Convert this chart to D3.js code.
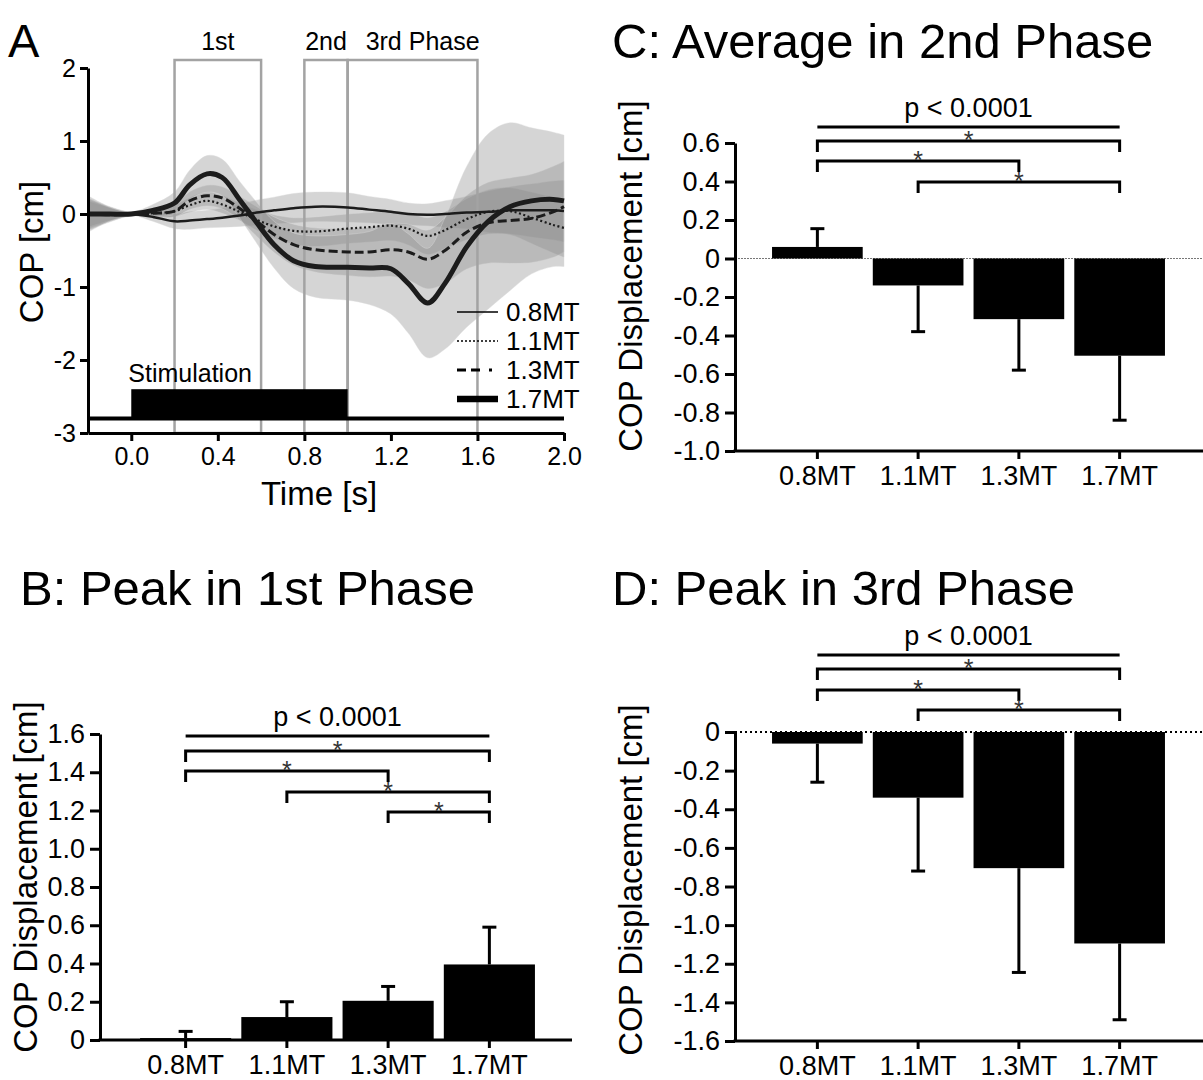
<!DOCTYPE html>
<html>
<head>
<meta charset="utf-8">
<script src="https://cdn.jsdelivr.net/npm/d3@7"></script>
<style>
  body { margin: 0; background: #fff; }
  svg { font-family: "Liberation Sans", Arial, Helvetica, sans-serif; }
</style>
</head>
<body>
<svg id="fig" width="1203" height="1080"></svg>
<script>
// ---- panel A: time courses ----
const times = [-0.2, -0.1, 0, 0.1, 0.2, 0.27, 0.35, 0.42, 0.5, 0.58, 0.66, 0.75, 0.85,
               1.0, 1.1, 1.2, 1.28, 1.37, 1.45, 1.55, 1.65, 1.75, 1.85, 1.95, 2.0];

const mean08 = [0, 0, 0, -0.04, -0.1, -0.09, -0.07, -0.05, -0.02, 0.02, 0.05, 0.08, 0.1,
                0.09, 0.06, 0.03, 0, -0.01, 0, 0.02, 0.03, 0.05, 0.05, 0.05, 0.04];
const mean11 = [0, 0, 0, 0.01, 0.04, 0.12, 0.18, 0.13, 0.03, -0.08, -0.17, -0.23, -0.24,
                -0.2, -0.18, -0.16, -0.2, -0.3, -0.22, -0.07, 0.03, 0.04, -0.05, -0.15, -0.19];
const mean13 = [0, -0.01, 0, 0.01, 0.04, 0.18, 0.25, 0.22, 0.08, -0.1, -0.28, -0.42, -0.49,
                -0.52, -0.52, -0.49, -0.52, -0.62, -0.5, -0.25, -0.12, -0.09, -0.06, 0.03, 0.1];
const mean17 = [0, 0, 0, 0.05, 0.15, 0.4, 0.55, 0.5, 0.2, -0.12, -0.42, -0.64, -0.72,
                -0.73, -0.74, -0.75, -0.95, -1.22, -0.95, -0.45, -0.1, 0.1, 0.18, 0.2, 0.18];

const sd08 = [0.2, 0.1, 0.02, 0.06, 0.1, 0.12, 0.12, 0.13, 0.15, 0.17, 0.18, 0.2, 0.2,
              0.2, 0.18, 0.17, 0.15, 0.15, 0.18, 0.22, 0.28, 0.32, 0.36, 0.4, 0.42];
const sd11 = [0.18, 0.09, 0.02, 0.05, 0.08, 0.1, 0.12, 0.12, 0.12, 0.14, 0.16, 0.18, 0.2,
              0.2, 0.2, 0.2, 0.22, 0.25, 0.25, 0.28, 0.3, 0.32, 0.35, 0.38, 0.4];
const sd13 = [0.22, 0.1, 0.02, 0.05, 0.08, 0.12, 0.14, 0.15, 0.16, 0.2, 0.24, 0.28, 0.3,
              0.32, 0.34, 0.36, 0.38, 0.4, 0.45, 0.5, 0.55, 0.58, 0.6, 0.62, 0.62];
const sd17 = [0.25, 0.1, 0.03, 0.08, 0.15, 0.2, 0.25, 0.25, 0.25, 0.28, 0.32, 0.38, 0.42,
              0.45, 0.5, 0.62, 0.68, 0.75, 0.9, 1.1, 1.2, 1.15, 1.0, 0.92, 0.9];

const seriesNames = ["0.8MT", "1.1MT", "1.3MT", "1.7MT"];
const phases = [
  {label: "1st", t0: 0.2, t1: 0.6},
  {label: "2nd", t0: 0.8, t1: 1.0},
  {label: "3rd Phase", t0: 1.0, t1: 1.6}
];
const stimulation = {t0: 0, t1: 1.0, top: -2.4, base: -2.8};

// ---- panels B-D: bar charts ----
const categories = ["0.8MT", "1.1MT", "1.3MT", "1.7MT"];
const peak1Mean = [0.01, 0.12, 0.205, 0.395];
const peak1Err  = [0.045, 0.2, 0.28, 0.59];
const avg2Mean  = [0.06, -0.14, -0.315, -0.505];
const avg2Err   = [0.155, -0.38, -0.58, -0.84];
const peak3Mean = [-0.06, -0.34, -0.705, -1.095];
const peak3Err  = [-0.26, -0.72, -1.245, -1.49];
const pairsB  = [[0, 3], [0, 2], [1, 3], [2, 3]];
const pairsCD = [[0, 3], [0, 2], [1, 3]];
const pLabel = "p < 0.0001";

const svg = d3.select("#fig");
const tickFmt = d => d === 0 ? "0" : d.toFixed(1);

function styleAxis(g, fs) {
  g.selectAll("path.domain").attr("stroke", "#000").attr("stroke-width", 3);
  g.selectAll(".tick line").attr("stroke", "#000").attr("stroke-width", 3);
  g.selectAll(".tick text").attr("fill", "#000").attr("font-size", fs)
    .style("font-family", "'Liberation Sans', Arial, sans-serif");
}

// ================= Panel A =================
(function () {
  const x = d3.scaleLinear().domain([-0.2, 2.0]).range([88, 564]);
  const y = d3.scaleLinear().domain([-3, 2]).range([433, 68]);
  const g = svg.append("g");

  g.append("text").attr("x", 8).attr("y", 57).attr("font-size", 47).text("A");

  const means = [mean08, mean11, mean13, mean17];
  const sds = [sd08, sd11, sd13, sd17];
  const rows = means.map((m, i) => times.map((t, j) => ({t, m: m[j], s: sds[i][j]})));

  const area = d3.area().curve(d3.curveCatmullRom)
    .x(d => x(d.t)).y0(d => y(d.m - d.s)).y1(d => y(d.m + d.s));
  const line = d3.line().curve(d3.curveCatmullRom)
    .x(d => x(d.t)).y(d => y(d.m));

  g.selectAll("path.band").data(rows).join("path")
    .attr("class", "band")
    .attr("d", area)
    .attr("fill", "#8a8a8a")
    .attr("fill-opacity", 0.36)
    .attr("stroke", "#ddd")
    .attr("stroke-opacity", 0.5)
    .attr("stroke-width", 0.8);

  // phase boxes
  g.selectAll("rect.phase").data(phases).join("rect")
    .attr("class", "phase")
    .attr("x", d => x(d.t0)).attr("width", d => x(d.t1) - x(d.t0))
    .attr("y", 60).attr("height", y(-3) - 60)
    .attr("fill", "none").attr("stroke", "#a3a3a3").attr("stroke-width", 2.5);
  g.selectAll("text.phase").data(phases).join("text")
    .attr("class", "phase")
    .attr("x", (d, i) => i === 2 ? x(d.t0) + 18 : (x(d.t0) + x(d.t1)) / 2)
    .attr("y", 50)
    .attr("text-anchor", (d, i) => i === 2 ? "start" : "middle")
    .attr("font-size", 25)
    .text(d => d.label);

  const styles = [
    {w: 2.5, dash: null, legDash: null},
    {w: 2.2, dash: "2,2.5", legDash: "2,2"},
    {w: 3, dash: "9,4", legDash: "9,5,9,9,3,7,3,7"},
    {w: 5, dash: null, legDash: null}
  ];

  g.selectAll("path.mean").data(rows).join("path")
    .attr("class", "mean")
    .attr("d", line)
    .attr("fill", "none")
    .attr("stroke", "#1c1c1c")
    .attr("stroke-width", (d, i) => styles[i].w)
    .attr("stroke-dasharray", (d, i) => styles[i].dash);

  // stimulation
  g.append("rect")
    .attr("x", x(stimulation.t0)).attr("width", x(stimulation.t1) - x(stimulation.t0))
    .attr("y", y(stimulation.top)).attr("height", y(stimulation.base) - y(stimulation.top))
    .attr("fill", "#000");
  g.append("line")
    .attr("x1", x(-0.2)).attr("x2", x(2.0))
    .attr("y1", y(stimulation.base)).attr("y2", y(stimulation.base))
    .attr("stroke", "#000").attr("stroke-width", 4);
  g.append("text").attr("x", x(stimulation.t0) - 3).attr("y", 382)
    .attr("font-size", 25).text("Stimulation");

  // legend
  const leg = g.selectAll("g.leg").data(seriesNames).join("g")
    .attr("class", "leg")
    .attr("transform", (d, i) => `translate(457,${312 + i * 29})`);
  leg.append("line").attr("x1", 0).attr("x2", 41)
    .attr("stroke", "#000")
    .attr("stroke-width", (d, i) => i === 3 ? 6.5 : (i === 2 ? 2.8 : 1.5))
    .attr("stroke-dasharray", (d, i) => styles[i].legDash);
  leg.append("text").attr("x", 49).attr("y", 9).attr("font-size", 26).text(d => d);

  const xa = g.append("g").attr("transform", `translate(0,${y(-3)})`)
    .call(d3.axisBottom(x).tickValues([0, 0.4, 0.8, 1.2, 1.6, 2.0])
      .tickFormat(d3.format(".1f")).tickSize(8).tickSizeOuter(0).tickPadding(6));
  styleAxis(xa, 25);
  const ya = g.append("g").attr("transform", `translate(${x(-0.2)},0)`)
    .call(d3.axisLeft(y).tickValues([2, 1, 0, -1, -2, -3])
      .tickFormat(d => d < 0 ? "-" + Math.abs(d) : String(d)).tickSize(8).tickSizeOuter(0).tickPadding(4));
  styleAxis(ya, 25);

  g.append("text").attr("x", 319).attr("y", 505).attr("text-anchor", "middle")
    .attr("font-size", 33).text("Time [s]");
  g.append("text").attr("transform", "translate(43,252) rotate(-90)")
    .attr("text-anchor", "middle").attr("font-size", 33).text("COP [cm]");
})();

// ================= bar panels =================
function barPanel(o) {
  const g = svg.append("g");
  const y = d3.scaleLinear().domain(o.domain).range(o.yRange);
  const x = d3.scaleBand().domain(categories).range(o.bandRange)
    .paddingInner(0.1).paddingOuter(0.05);
  const cx = c => x(c) + x.bandwidth() / 2;

  g.append("text").attr("x", o.titleX).attr("y", o.titleY)
    .attr("font-size", 49).text(o.title);

  // zero line
  if (o.zero) {
    g.append("line").attr("x1", o.axisX).attr("x2", o.axisEnd)
      .attr("y1", y(0)).attr("y2", y(0))
      .attr("stroke", o.zero.color).attr("stroke-width", o.zero.w)
      .attr("stroke-dasharray", o.zero.dash);
  }

  const data = categories.map((c, i) => ({c, m: o.means[i], e: o.errs[i]}));

  g.selectAll("line.err").data(data).join("line")
    .attr("class", "err")
    .attr("x1", d => cx(d.c)).attr("x2", d => cx(d.c))
    .attr("y1", d => y(d.m)).attr("y2", d => y(d.e))
    .attr("stroke", "#000").attr("stroke-width", 3);
  g.selectAll("line.cap").data(data).join("line")
    .attr("class", "cap")
    .attr("x1", d => cx(d.c) - 7).attr("x2", d => cx(d.c) + 7)
    .attr("y1", d => y(d.e)).attr("y2", d => y(d.e))
    .attr("stroke", "#000").attr("stroke-width", 3);

  g.selectAll("rect.bar").data(data).join("rect")
    .attr("class", "bar")
    .attr("x", d => x(d.c)).attr("width", x.bandwidth())
    .attr("y", d => y(Math.max(0, d.m)))
    .attr("height", d => Math.abs(y(d.m) - y(0)))
    .attr("fill", "#000");

  // significance
  const first = cx(categories[0]), last = cx(categories[categories.length - 1]);
  g.append("text").attr("x", (first + last) / 2).attr("y", o.pY)
    .attr("text-anchor", "middle").attr("font-size", 27).text(pLabel);
  g.append("line").attr("x1", first).attr("x2", last)
    .attr("y1", o.pY + 10).attr("y2", o.pY + 10)
    .attr("stroke", "#000").attr("stroke-width", 3);

  const br = g.selectAll("g.br").data(o.pairs).join("g").attr("class", "br");
  br.append("path")
    .attr("d", (p, i) => {
      const yy = o.brY[i], a = cx(categories[p[0]]), b = cx(categories[p[1]]);
      return `M${a},${yy + 11}V${yy}H${b}V${yy + 11}`;
    })
    .attr("fill", "none").attr("stroke", "#000").attr("stroke-width", 3);
  br.append("text")
    .attr("x", p => (cx(categories[p[0]]) + cx(categories[p[1]])) / 2)
    .attr("y", (p, i) => o.brY[i] + 8)
    .attr("text-anchor", "middle").attr("font-size", 25).attr("fill", "#333")
    .text("*");

  // axes
  const ya = g.append("g").attr("transform", `translate(${o.axisX},0)`)
    .call(d3.axisLeft(y).tickValues(o.ticks).tickFormat(tickFmt)
      .tickSize(10).tickSizeOuter(0).tickPadding(5));
  styleAxis(ya, 27);
  const xBase = y(o.domain[0]);
  g.append("line").attr("x1", o.axisX - 1.5).attr("x2", o.axisEnd)
    .attr("y1", xBase).attr("y2", xBase)
    .attr("stroke", "#000").attr("stroke-width", 3);
  const xa = g.append("g").attr("transform", `translate(0,${xBase})`)
    .call(d3.axisBottom(x).tickSize(8).tickSizeOuter(0).tickPadding(7));
  xa.select("path.domain").remove();
  styleAxis(xa, 27);

  g.append("text")
    .attr("transform", `translate(${o.labelX},${o.labelY}) rotate(-90)`)
    .attr("text-anchor", "middle").attr("font-size", 33)
    .text("COP Displacement [cm]");
}

barPanel({
  title: "C: Average in 2nd Phase", titleX: 612, titleY: 58,
  domain: [-1.0, 0.6], yRange: [451, 143], ticks: d3.range(-1.0, 0.61, 0.2).map(v => +v.toFixed(1)),
  bandRange: [767, 1170], axisX: 735, axisEnd: 1203,
  means: avg2Mean, errs: avg2Err,
  zero: {color: "#777", w: 1.2, dash: "2,1"},
  pY: 117, pairs: pairsCD, brY: [141, 161, 182],
  labelX: 642, labelY: 276
});

barPanel({
  title: "B: Peak in 1st Phase", titleX: 20, titleY: 605,
  domain: [0, 1.6], yRange: [1040, 734], ticks: d3.range(0, 1.61, 0.2).map(v => +v.toFixed(1)),
  bandRange: [135, 540], axisX: 100, axisEnd: 572,
  means: peak1Mean, errs: peak1Err,
  zero: null,
  pY: 726, pairs: pairsB, brY: [751, 771, 792, 812],
  labelX: 37, labelY: 877
});

barPanel({
  title: "D: Peak in 3rd Phase", titleX: 612, titleY: 605,
  domain: [-1.6, 0], yRange: [1041, 732], ticks: d3.range(-1.6, 0.01, 0.2).map(v => +v.toFixed(1)),
  bandRange: [767, 1170], axisX: 735, axisEnd: 1203,
  means: peak3Mean, errs: peak3Err,
  zero: {color: "#000", w: 2, dash: "2,3"},
  pY: 645, pairs: pairsCD, brY: [669, 690, 710],
  labelX: 642, labelY: 880
});
</script>
</body>
</html>
